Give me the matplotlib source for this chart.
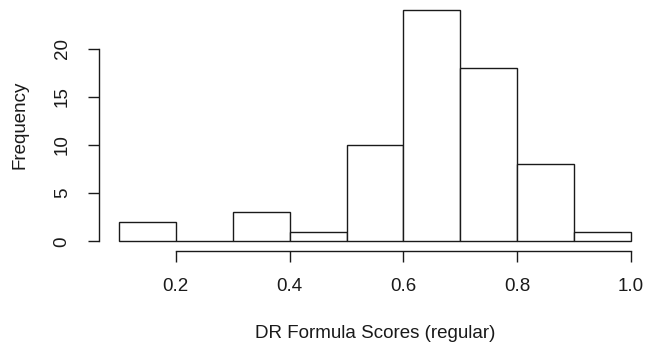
import numpy as np
import matplotlib.pyplot as plt

plt.rcParams['font.family'] = ['Liberation Sans', 'DejaVu Sans']

# histogram of scores, bins of width 0.1
bin_edges = [0.1, 0.2, 0.3, 0.4, 0.5, 0.6, 0.7, 0.8, 0.9, 1.0]
counts = [2, 0, 3, 1, 10, 24, 18, 8, 1]
x_ticks = [0.2, 0.4, 0.6, 0.8, 1.0]
y_ticks = [0, 5, 10, 15, 20]

W, H = 646, 349
fig = plt.figure(figsize=(W / 100, H / 100), dpi=100)
ax = fig.add_axes([98.5 / W, (H - 250.5) / H, 553 / W, 249.6 / H])

lefts = np.array(bin_edges[:-1])
widths = np.diff(bin_edges)
ax.bar(lefts, counts, width=widths, align='edge', facecolor='white',
       edgecolor='#1a1a1a', linewidth=1.0, clip_on=False)

ax.set_xlim(0.064, 1.036)
ax.set_ylim(-0.96, 24.96)

for s in ['top', 'right']:
    ax.spines[s].set_visible(False)
ax.spines['left'].set_bounds(0, 20)
ax.spines['bottom'].set_bounds(0.2, 1.0)
for s in ['left', 'bottom']:
    ax.spines[s].set_color('#1a1a1a')
    ax.spines[s].set_linewidth(1.0)

ax.set_xticks(x_ticks)
ax.set_xticklabels(['0.2', '0.4', '0.6', '0.8', '1.0'])
ax.set_yticks(y_ticks)
ax.set_yticklabels([str(v) for v in y_ticks], rotation=90, va='center')
ax.tick_params(axis='both', length=8, width=1.0, color='#1a1a1a',
               labelsize=13.5, labelcolor='#1a1a1a')
ax.tick_params(axis='x', pad=12)
ax.tick_params(axis='y', pad=12)

fig.text(375 / W, 1 - 333 / H, 'DR Formula Scores (regular)', ha='center',
         va='center', fontsize=13.5, color='#1a1a1a')
fig.text(20 / W, 1 - 125 / H, 'Frequency', ha='center', va='center',
         rotation=90, fontsize=13.5, color='#1a1a1a')

fig.savefig('out.png', dpi=100, facecolor='white')
